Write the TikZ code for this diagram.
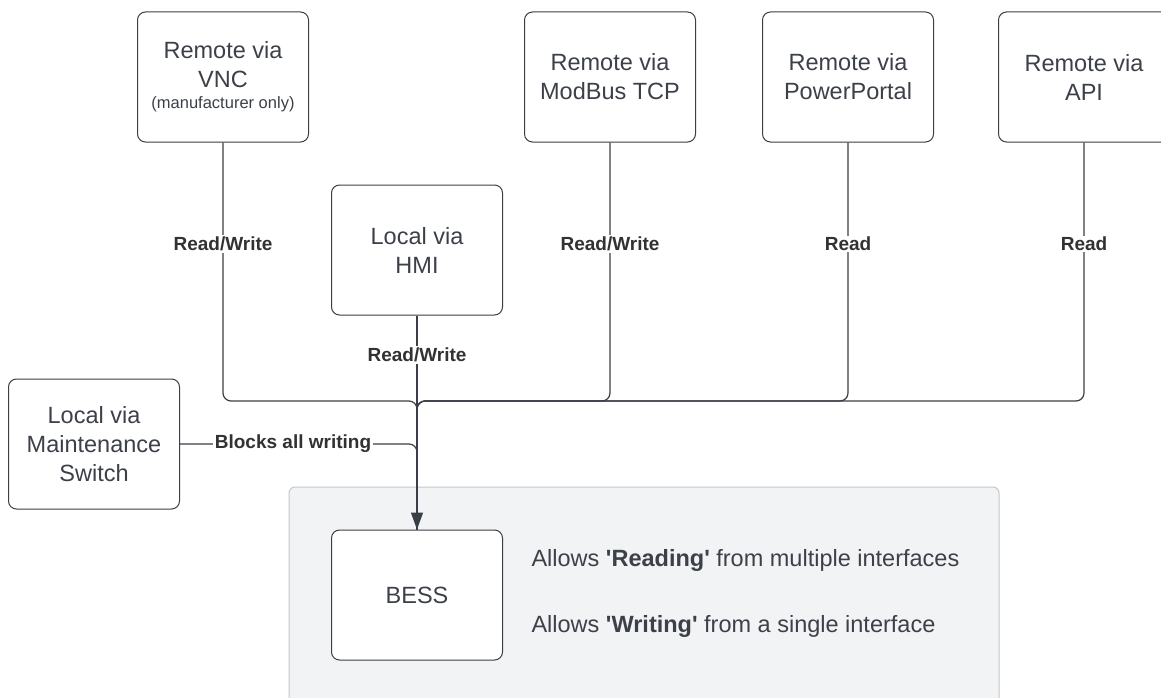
\documentclass[tikz,border=0pt]{standalone}
\usepackage{fontspec}
\setmainfont{Liberation Sans}
\usetikzlibrary{arrows.meta, positioning}
\definecolor{linec}{RGB}{58,62,70}
\definecolor{textc}{RGB}{60,64,72}
\definecolor{lblc}{RGB}{50,50,50}
\definecolor{panelc}{RGB}{242,243,245}
\definecolor{paneld}{RGB}{196,199,204}
\tikzset{
  box/.style={draw=linec, line width=1pt, rounded corners=8pt, fill=white,
              minimum width=171pt, minimum height=130pt, align=center,
              text=textc, font=\fontsize{23.5}{29}\selectfont},
  lbl/.style={fill=white, inner sep=1.5pt, text=lblc,
              font=\fontsize{19}{21}\selectfont\bfseries},
  note/.style={anchor=west, text=textc, font=\fontsize{23.5}{29}\selectfont},
  wire/.style={draw=linec, line width=1.2pt, rounded corners=8pt},
  feed/.style={draw=linec, line width=1.2pt, -{Triangle[length=17pt, width=12pt]}},
}
\newcommand{\sq}{\textquotesingle}

\begin{document}
\begin{tikzpicture}[x=1pt, y=-1pt]
  \useasboundingbox (0,0) rectangle (1161,698);
  \clip (0,0) rectangle (1161,698);

  % panel round the BESS
  \draw[paneld, fill=panelc, rounded corners=6pt, line width=1pt]
    (289,487) rectangle (999,740);

  % interfaces
  \node[box] (vnc) at (223,77)
    {Remote via\\VNC\\[-8pt]{\fontsize{16.5}{19}\selectfont(manufacturer only)}};
  \node[box] (modbus) at (610,77) {Remote via\\ModBus TCP};
  \node[box] (portal) at (848,77) {Remote via\\PowerPortal};
  \node[box] (api) at (1084,77) {Remote via\\API};
  \node[box] (hmi) at (417,250) {Local via\\HMI};
  \node[box] (maint) at (94,444) {Local via\\Maintenance\\Switch};
  \node[box] (bess) at (417,595) {BESS};

  % connectors
  \coordinate (bus) at (417,401);
  \coordinate (mjoin) at (417,444);
  \foreach \src in {vnc, modbus, portal, api}
    \draw[wire] (\src.south) |- (bus) -- (bess.north);
  \draw[wire] (maint.east) -- (mjoin) -- (bess.north);
  \draw[feed] (hmi.south) -- (bess.north);

  % labels
  \node[lbl] (vncrw) at (223,244) {Read/Write};
  \node[lbl] (modrw) at (610,244) {Read/Write};
  \node[lbl] (portr) at (848,244) {Read};
  \node[lbl] (apir) at (1084,244) {Read};
  \node[lbl] (hmirw) at (417,355) {Read/Write};
  \node[lbl] (block) at (293,444) {Blocks all writing};

  % notes
  \node[note] (readnote) at (528,560)
    {Allows \textbf{\sq Reading\sq} from multiple interfaces};
  \node[note] (writenote) at (528,626)
    {Allows \textbf{\sq Writing\sq} from a single interface};
\end{tikzpicture}
\end{document}
